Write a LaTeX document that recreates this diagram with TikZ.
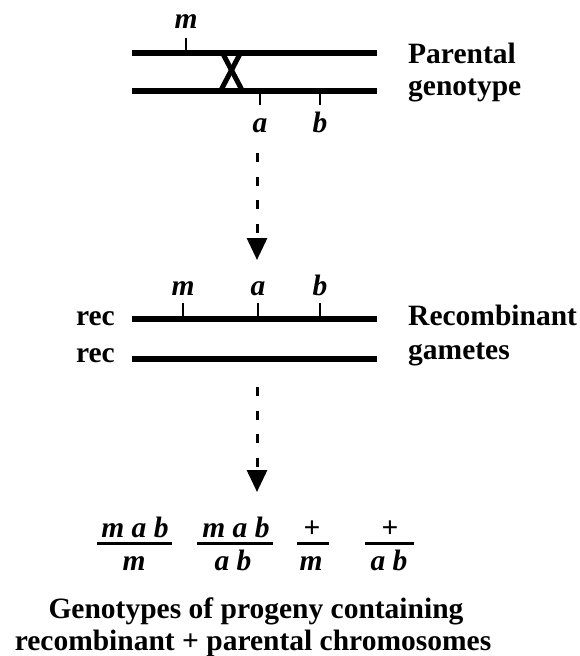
\documentclass[tikz,border=0pt]{standalone}
\usepackage{fontspec}
\setmainfont{Liberation Serif}
\usetikzlibrary{arrows.meta}
\tikzset{
  chrom/.style={line width=5.5pt},
  tick/.style={line width=2pt},
  lbl/.style={font=\fontsize{29.5}{32}\selectfont\bfseries, inner sep=0pt, anchor=base},
  gene/.style={font=\fontsize{29.5}{32}\selectfont\bfseries\itshape, inner sep=0pt, anchor=base},
  flow/.style={line width=3pt, dash pattern=on 9pt off 14.5pt, -{Triangle[width=20pt,length=22pt]}},
  fbar/.style={line width=3pt},
}
\begin{document}
\begin{tikzpicture}[x=1pt,y=-1pt]
\useasboundingbox (0,0) rectangle (579,656);
% parental
\coordinate (p1l) at (132,53); \coordinate (p1r) at (377,53);
\coordinate (p2l) at (132,91); \coordinate (p2r) at (377,91);
\draw[chrom] (p1l) -- (p1r);
\draw[chrom] (p2l) -- (p2r);
\draw[line width=5pt] (222.5,53) -- (242.5,91);
\draw[line width=5pt] (240.5,53) -- (220.5,91);
\draw[tick] (186,53) -- (186,38);
\draw[tick] (260,91) -- (260,105);
\draw[tick] (320,91) -- (320,105);
\node[gene] (m1) at (186,28) {m};
\node[gene] (a1) at (260,132) {a};
\node[gene] (b1) at (320,132) {b};
\node[lbl, anchor=base west] (par) at (408,63) {Parental};
\node[lbl, anchor=base west] (gen) at (408,95) {genotype};
% arrow 1
\coordinate (ar1s) at (257,153); \coordinate (ar1e) at (257,260);
\draw[flow] (ar1s) -- (ar1e);
% recombinant
\coordinate (r1l) at (132,319); \coordinate (r1r) at (377,319);
\coordinate (r2l) at (132,359); \coordinate (r2r) at (377,359);
\draw[chrom] (r1l) -- (r1r);
\draw[chrom] (r2l) -- (r2r);
\draw[tick] (183,319) -- (183,303);
\draw[tick] (258,319) -- (258,303);
\draw[tick] (320,319) -- (320,303);
\node[gene] (m2) at (183,295) {m};
\node[gene] (a2) at (258,295) {a};
\node[gene] (b2) at (320,295) {b};
\node[lbl, anchor=base east] (rec1) at (115,325) {rec};
\node[lbl, anchor=base east] (rec2) at (115,362) {rec};
\node[lbl, anchor=base west] (recb) at (408,325) {Recombinant};
\node[lbl, anchor=base west] (gam) at (408,359) {gametes};
% arrow 2
\coordinate (ar2s) at (257,387); \coordinate (ar2e) at (257,492);
\draw[flow] (ar2s) -- (ar2e);
% fractions
\draw[fbar] (97,543) -- (172,543);
\draw[fbar] (197,543) -- (273,543);
\draw[fbar] (297,543) -- (329,543);
\draw[fbar] (365,543) -- (414,543);
\node[gene] (n1) at (135,537) {m a b};
\node[gene] (d1) at (134,570) {m};
\node[gene] (n2) at (236,537) {m a b};
\node[gene] (d2) at (233,570) {a b};
\node[lbl] (n3) at (312,537) {+};
\node[gene] (d3) at (311,570) {m};
\node[lbl] (n4) at (390,537) {+};
\node[gene] (d4) at (389,570) {a b};
% caption
\node[lbl] (cap1) at (256,618) {Genotypes of progeny containing};
\node[lbl] (cap2) at (253,650) {recombinant + parental chromosomes};
\end{tikzpicture}
\end{document}
